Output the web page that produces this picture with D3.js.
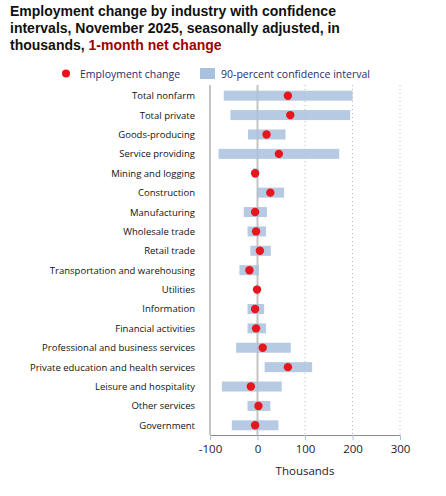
<!DOCTYPE html>
<html>
<head>
<meta charset="utf-8">
<script src="https://cdn.jsdelivr.net/npm/d3@7"></script>
<style>
  html, body { margin: 0; padding: 0; background: #fff; }
  svg { display: block; }
</style>
</head>
<body>
<svg id="chart" width="446" height="496"></svg>
<script>
let WIDTH = 446, HEIGHT = 496;
let M = { top: 86, right: 46, bottom: 61, left: 210 };

// values (thousands)
let industries = [
    "Total nonfarm", "Total private", "Goods-producing", "Service providing",
    "Mining and logging", "Construction", "Manufacturing", "Wholesale trade",
    "Retail trade", "Transportation and warehousing", "Utilities", "Information",
    "Financial activities", "Professional and business services",
    "Private education and health services", "Leisure and hospitality",
    "Other services", "Government"
];
let netChange = [64, 69, 19, 45, -5, 27, -5, -3, 5, -17, -1, -5, -3, 11, 64, -14, 2, -5];
let ciLow  = [-71, -57, -20, -82, -9, 0, -29, -21, -15, -38, -3, -21, -21, -45, 15, -75, -21, -54];
let ciHigh = [200, 195, 59, 172, 2, 56, 20, 18, 28, 3, 2, 14, 18, 70, 115, 51, 27, 44];
let xTicks = [-100, 0, 100, 200, 300];

let titleLines = [
    ["Employment change by industry with confidence"],
    ["intervals, November 2025, seasonally adjusted, in"],
    ["thousands, ", "1-month net change"]
];

let DOT = "#e8161c", BAR = "#a9c1de", LABEL_FONT = "'Open Sans', sans-serif";

function init() {
    let svg = d3.select("#chart");

    let rows = industries.map(function (name, i) {
        return { name: name, value: netChange[i], lo: ciLow[i], hi: ciHigh[i] };
    });

    let x = d3.scaleLinear().domain([-100, 300]).range([M.left, WIDTH - M.right]);
    let y = d3.scaleBand().domain(industries).range([M.top, HEIGHT - M.bottom]);

    // title
    let title = svg.append("text")
        .attr("font-family", "'Liberation Sans', Arial, sans-serif")
        .attr("font-weight", "bold")
        .attr("font-size", 14)
        .attr("fill", "#111");
    titleLines.forEach(function (parts, i) {
        let line = title.append("tspan").attr("x", 10).attr("y", 16 + i * 16.8);
        parts.forEach(function (p, j) {
            let t = j === 0 ? line : title.append("tspan");
            t.text(p);
            if (j > 0) t.attr("fill", "#a00000");
        });
    });

    // legend
    let leg = svg.append("g").attr("font-family", LABEL_FONT).attr("font-size", 10.5).attr("fill", "#2b2b6b");
    leg.append("circle").attr("cx", 66).attr("cy", 73.5).attr("r", 4).attr("fill", DOT);
    leg.append("text").attr("x", 80).attr("y", 77.5).text("Employment change");
    leg.append("rect").attr("x", 200).attr("y", 68).attr("width", 15).attr("height", 11).attr("fill", BAR);
    leg.append("text").attr("x", 221).attr("y", 77.5).text("90-percent confidence interval");

    // dotted gridlines
    svg.append("g")
        .selectAll("line")
        .data(xTicks.filter(d => d > 0))
        .join("line")
        .attr("x1", d => x(d)).attr("x2", d => x(d))
        .attr("y1", M.top - 1).attr("y2", HEIGHT - M.bottom)
        .attr("stroke", "#b8b8b8")
        .attr("stroke-dasharray", "1,3");

    // zero line
    svg.append("line")
        .attr("x1", x(0)).attr("x2", x(0))
        .attr("y1", M.top - 1).attr("y2", HEIGHT - M.bottom)
        .attr("stroke", "#c4c4c4")
        .attr("stroke-width", 2);

    // confidence bars
    svg.append("g")
        .selectAll("rect")
        .data(rows)
        .join("rect")
        .attr("x", d => x(d.lo))
        .attr("width", d => x(d.hi) - x(d.lo))
        .attr("y", d => y(d.name) + y.bandwidth() / 2 - 5)
        .attr("height", 10)
        .attr("fill", BAR)
        .attr("opacity", 0.85);

    // dots
    svg.append("g")
        .selectAll("circle")
        .data(rows)
        .join("circle")
        .attr("cx", d => x(d.value))
        .attr("cy", d => y(d.name) + y.bandwidth() / 2)
        .attr("r", 4.2)
        .attr("fill", DOT);

    // category labels
    svg.append("g")
        .attr("font-family", LABEL_FONT)
        .attr("font-size", 9.5)
        .attr("fill", "#111")
        .attr("text-anchor", "end")
        .selectAll("text")
        .data(industries)
        .join("text")
        .attr("x", M.left - 15)
        .attr("y", d => y(d) + y.bandwidth() / 2 + 3.5)
        .text(d => d);

    // left axis line
    svg.append("line")
        .attr("x1", M.left).attr("x2", M.left)
        .attr("y1", M.top - 1).attr("y2", HEIGHT - M.bottom)
        .attr("stroke", "#8a8a8a");

    // bottom axis (plain hyphen for negatives, like the original)
    let xAxis = svg.append("g")
        .attr("transform", `translate(0, ${HEIGHT - M.bottom})`)
        .call(d3.axisBottom(x).tickValues(xTicks).tickFormat(d => String(d)).tickSize(5).tickPadding(5));
    xAxis.select(".domain").attr("stroke", "#8a8a8a");
    xAxis.selectAll(".tick line").attr("stroke", "#a9c1de");
    xAxis.selectAll(".tick text")
        .attr("font-family", LABEL_FONT)
        .attr("font-size", 11.5)
        .attr("fill", "#1a1a2a");

    svg.append("text")
        .attr("x", (M.left + WIDTH - M.right) / 2)
        .attr("y", 475)
        .attr("text-anchor", "middle")
        .attr("font-family", LABEL_FONT)
        .attr("font-size", 11.5)
        .attr("fill", "#1a1a2a")
        .text("Thousands");
}

init();
</script>
</body>
</html>
